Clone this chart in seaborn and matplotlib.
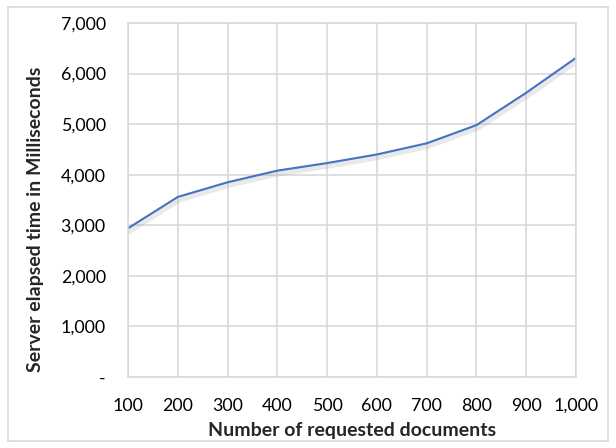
import matplotlib
matplotlib.use('Agg')
import matplotlib.pyplot as plt
import matplotlib.patheffects as pe
from matplotlib.patches import Rectangle
import seaborn as sns
import pandas as pd

# values
docs = [100, 200, 300, 400, 500, 600, 700, 800, 900, 1000]
elapsed_ms = [2940, 3560, 3850, 4080, 4230, 4400, 4620, 4980, 5620, 6310]
y_ticks = [0, 1000, 2000, 3000, 4000, 5000, 6000, 7000]

sns.set_style('white')
plt.rcParams['font.family'] = ['Lato', 'DejaVu Sans']

df = pd.DataFrame({'docs': docs, 'elapsed': elapsed_ms})

fig = plt.figure(figsize=(6.16, 4.48), dpi=100)
ax = fig.add_axes([0.2078, 0.1585, 0.7272, 0.7902])

sns.lineplot(data=df, x='docs', y='elapsed', ax=ax, color='#4472C4', linewidth=1.5,
             path_effects=[pe.SimpleLineShadow(offset=(1, -2), shadow_color='#888888', alpha=0.18, linewidth=4),
                           pe.Normal()])

ax.set_xlim(100, 1000)
ax.set_ylim(0, 7000)
ax.set_xticks(docs)
ax.set_xticklabels([f'{d:,}' for d in docs])
ax.set_yticks(y_ticks)
ax.set_yticklabels(['-' if v == 0 else f'{v:,}' for v in y_ticks])
ax.grid(True, color='#d9d9d9', linewidth=1.2)
for s in ax.spines.values():
    s.set_color('#d9d9d9')
    s.set_linewidth(1.2)
ax.tick_params(axis='both', length=0, labelsize=12.8, colors='#000000')
ax.tick_params(axis='x', pad=15)
ax.tick_params(axis='y', pad=16)
ax.set_xlabel('Number of requested documents', fontsize=14, fontweight='bold', labelpad=6)
ax.set_ylabel('Server elapsed time in Milliseconds', fontsize=14, fontweight='bold', labelpad=12)
ax.yaxis.label.set_y(0.445)  # label sits a bit below the axes centre, as in the original

fig.patches.append(Rectangle((8 / 616, 7 / 448), 600 / 616, 434 / 448, transform=fig.transFigure,
                             fill=False, edgecolor='#d9d9d9', linewidth=1.2))

fig.savefig('out.png', dpi=100)
